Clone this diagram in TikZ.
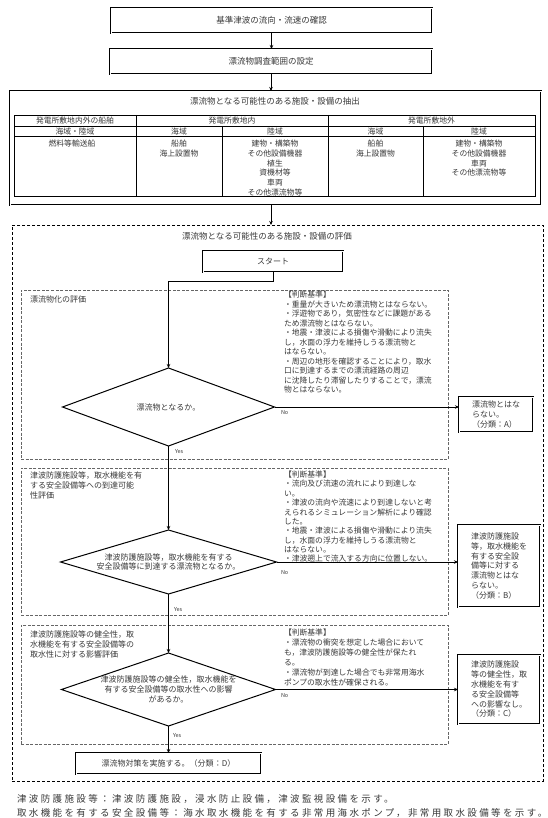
\documentclass[tikz,border=0pt]{standalone}
\usepackage{fontspec}
\newfontfamily\jp{Noto Sans CJK JP}
\newfontfamily\jpfoot[LetterSpace=25]{Noto Sans CJK JP}
\usetikzlibrary{shapes.geometric,arrows.meta,calc}
\colorlet{txtc}{black!78}
\begin{document}
\begin{tikzpicture}[x=1pt,y=-1pt,
  every node/.style={inner sep=0pt, outer sep=0pt, text=txtc},
  t85/.style={font=\jp\fontsize{8.5}{10}\selectfont},
  t8/.style={font=\jp\fontsize{8}{9.8}\selectfont},
  cell/.style={font=\jp\fontsize{7.8}{9.8}\selectfont, align=center, anchor=north},
  crit/.style={font=\jp\fontsize{7.8}{#1}\selectfont, align=left, anchor=north west},
  lab/.style={font=\jp\fontsize{5.5}{6}\selectfont, anchor=west},
  foot/.style={font=\jpfoot\fontsize{9.5}{11}\selectfont, anchor=west},
  dbox/.style={draw=black, double, double distance=0.8pt, line width=0.45pt},
  evalbox/.style={draw=black, dash pattern=on 3pt off 2pt, line width=0.9pt},
  sect/.style={draw=black!60, dash pattern=on 3pt off 1.5pt, line width=0.5pt},
  dia/.style={draw=black, diamond, line width=1pt, inner sep=0pt},
  conn/.style={draw=black, line width=0.8pt, -{Stealth[length=4pt,width=3.5pt]}},
  grid/.style={draw=black, line width=0.5pt}
]
\useasboundingbox (0,0) rectangle (548,818);

% top boxes
\node[dbox, minimum width=321, minimum height=25, t85] (b1) at (271.5,20.5) {基準津波の流向・流速の確認};
\node[dbox, minimum width=322, minimum height=25, t85] (b2) at (271,61.5) {漂流物調査範囲の設定};
\draw[conn] (b1.south) -- (b1.south |- b2.north);

% table box
\node[dbox, minimum width=531, minimum height=114] (tbl) at (275.5,148) {};
\draw[conn] (b2.south) -- (b2.south |- tbl.north);
\node[t85] (tbltitle) at (275,101) {漂流物となる可能性のある施設・設備の抽出};
\draw[grid] (14,115) rectangle (535,196);
\draw[grid] (14,126) -- (535,126) (14,136.5) -- (535,136.5)
  (136,115) -- (136,196) (328,115) -- (328,196)
  (222,126) -- (222,196) (423,126) -- (423,196);
\node[cell, anchor=center] (h1) at (75,120.5) {発電所敷地内外の船舶};
\node[cell, anchor=center] (h2) at (232,120.5) {発電所敷地内};
\node[cell, anchor=center] (h3) at (431.5,120.5) {発電所敷地外};
\node[cell, anchor=center] (sh1) at (75,131.3) {海域・陸域};
\node[cell, anchor=center] (sh2) at (179,131.3) {海域};
\node[cell, anchor=center] (sh3) at (275,131.3) {陸域};
\node[cell, anchor=center] (sh4) at (375.5,131.3) {海域};
\node[cell, anchor=center] (sh5) at (479,131.3) {陸域};
\node[cell] (c1t) at (72,140) {燃料等輸送船};
\node[cell] (c2t) at (179,140) {船舶\\海上設置物};
\node[cell] (c3t) at (275,140) {建物・構築物\\その他設備機器\\植生\\資機材等\\車両\\その他漂流物等};
\node[cell] (c4t) at (375.5,140) {船舶\\海上設置物};
\node[cell] (c5t) at (479,140) {建物・構築物\\その他設備機器\\車両\\その他漂流物等};

% evaluation box
\node[evalbox, minimum width=531, minimum height=556] (ev) at (277.5,503) {};
\draw[conn] (tbl.south -| b2.south) -- (b2.south |- ev.north);
\node[t85] (evtitle) at (267,236) {漂流物となる可能性のある施設・設備の評価};
\node[dbox, minimum width=140, minimum height=21, t8] (start) at (273,261.5) {スタート};

% sections
\node[sect, minimum width=427, minimum height=169] (s1) at (234.5,374.5) {};
\node[sect, minimum width=427, minimum height=147] (s2) at (234.5,541.5) {};
\node[sect, minimum width=427, minimum height=119] (s3) at (234.5,684.5) {};
\node[t8, anchor=north west] (s1l) at (30,296) {漂流物化の評価};
\node[t8, anchor=north west, align=left] (s2l) at (30,472) {津波防護施設等，取水機能を有\\する安全設備等への到達可能\\性評価};
\node[t8, anchor=north west, align=left] (s3l) at (30,631) {津波防護施設等の健全性，取\\水機能を有する安全設備等の\\取水性に対する影響評価};

% criteria
\node[crit=9.5] (k1) at (284,291) {【判断基準】\\・重量が大きいため漂流物とはならない。\\・浮遊物であり，気密性などに課題がある\\ため漂流物とはならない。\\・地震・津波による損傷や滑動により流失\\し，水面の浮力を維持しうる漂流物と\\はならない。\\・周辺の地形を確認することにより，取水\\口に到達するまでの漂流経路の周辺\\に沈降したり滞留したりすることで，漂流\\物とはならない。};
\node[crit=9.35] (k2) at (284,471) {【判断基準】\\・流向及び流速の流れにより到達しな\\い。\\・津波の流向や流速により到達しないと考\\えられるシミュレーション解析により確認\\した。\\・地震・津波による損傷や滑動により流失\\し，水面の浮力を維持しうる漂流物と\\はならない。\\・津波遡上で流入する方向に位置しない。};
\node[crit=10] (k3) at (284,629) {【判断基準】\\・漂流物の衝突を想定した場合において\\も，津波防護施設等の健全性が保たれ\\る。\\・漂流物が到達した場合でも非常用海水\\ポンプの取水性が確保される。};

% diamonds
\node[dia, minimum width=212, minimum height=78] (d1) at (168.5,407) {};
\node[t8] (d1t) at (d1.center) {漂流物となるか。};
\node[dia, minimum width=216, minimum height=64] (d2) at (168.5,562) {};
\node[t8, align=center] (d2t) at (d2.center) {津波防護施設等，取水機能を有する\\安全設備等に到達する漂流物となるか。};
\node[dia, minimum width=214, minimum height=73] (d3) at (168.5,689.5) {};
\node[t8, align=center] (d3t) at (d3.center) {津波防護施設等の健全性，取水機能を\\有する安全設備等の取水性への影響\\があるか。};

% result boxes
\node[dbox, minimum width=74, minimum height=35, t8, align=left] (bA) at (496,414.5) {漂流物とはな\\らない。\\（分類：A）};
\node[dbox, minimum width=82, minimum height=82, t8, align=left] (bB) at (499,566) {津波防護施設\\等，取水機能を\\有する安全設\\備等に対する\\漂流物とはな\\らない。\\（分類：B）};
\node[dbox, minimum width=82, minimum height=69, t8, align=left] (bC) at (499,689.5) {津波防護施設\\等の健全性，取\\水機能を有す\\る安全設備等\\への影響なし。\\（分類：C）};
\node[dbox, minimum width=185, minimum height=21, t8] (bD) at (168.5,763.5) {漂流物対策を実施する。（分類：D）};

% connectors
\coordinate (bend) at (273,281);
\draw[conn] (start.south) -- (bend) -| (d1.north);
\draw[conn] (d1.east) -- (d1.east -| bA.west);
\draw[conn] (d1.south) -- (d2.north);
\draw[conn] (d2.east) -- (d2.east -| bB.west);
\draw[conn] (d2.south) -- (d3.north);
\draw[conn] (d3.east) -- (d3.east -| bC.west);
\draw[conn] (d3.south) -- (bD.north);

% yes/no labels
\node[lab] (n1) at (281,413) {No};
\node[lab] (y1) at (175,452) {Yes};
\node[lab] (n2) at (281,573) {No};
\node[lab] (y2) at (174,610) {Yes};
\node[lab] (n3) at (281,696) {No};
\node[lab] (y3) at (173,736) {Yes};

% footer
\node[foot] (f1) at (17,799) {津波防護施設等：津波防護施設，浸水防止設備，津波監視設備を示す。};
\node[foot] (f2) at (17,813) {取水機能を有する安全設備等：海水取水機能を有する非常用海水ポンプ，非常用取水設備等を示す。};
\end{tikzpicture}
\end{document}
